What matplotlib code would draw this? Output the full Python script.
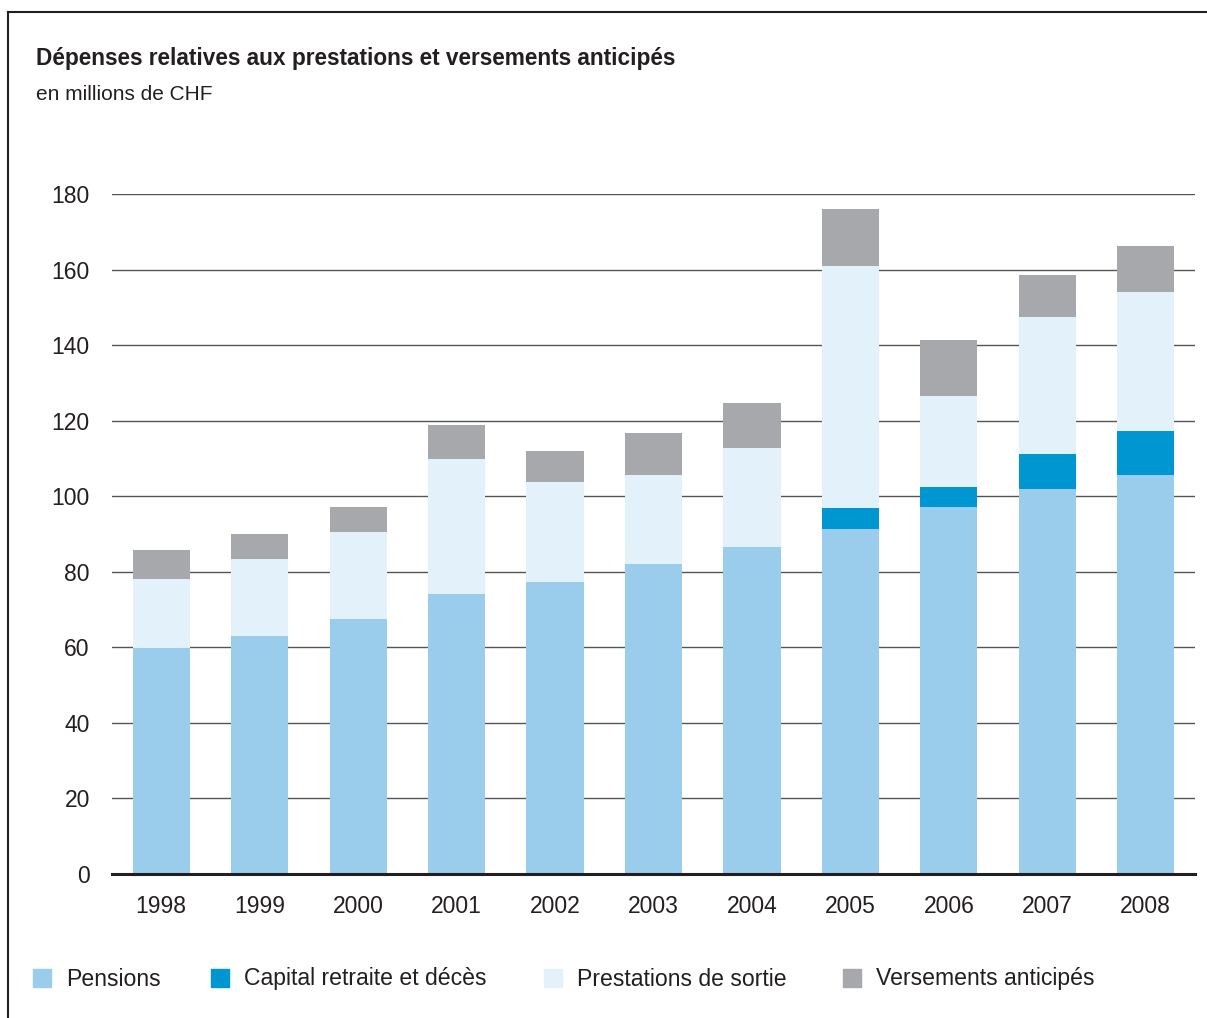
import numpy as np
import matplotlib.pyplot as plt
from matplotlib.patches import Rectangle
from matplotlib.lines import Line2D

plt.rcParams['font.family'] = ['Liberation Sans', 'DejaVu Sans']

# Données (en millions de CHF)
annees = ['1998', '1999', '2000', '2001', '2002', '2003', '2004', '2005', '2006', '2007', '2008']
pensions = [59.8, 63.0, 67.5, 74.1, 77.3, 82.0, 86.6, 91.3, 97.1, 101.9, 105.6]
capital = [0, 0, 0, 0, 0, 0, 0, 5.6, 5.3, 9.3, 11.7]
prestations_sortie = [18.3, 20.4, 23.0, 35.7, 26.5, 23.6, 26.2, 64.0, 24.1, 36.2, 36.7]
versements = [7.7, 6.6, 6.6, 9.0, 8.2, 11.1, 11.9, 15.1, 14.8, 11.2, 12.2]

series = [
    ("Pensions", pensions, "#99cdeb"),
    ("Capital retraite et décès", capital, "#0096d2"),
    ("Prestations de sortie", prestations_sortie, "#e3f1fa"),
    ("Versements anticipés", versements, "#a7a8ab"),
]

fig = plt.figure(figsize=(12.07, 10.18), dpi=100)
W, H = 1207, 1018
ax = fig.add_axes([112 / W, 1 - 874 / H, (1195 - 112) / W, (874 - 194) / H])

x = np.arange(len(annees))
bas = np.zeros(len(annees))
for nom, valeurs, couleur in series:
    ax.bar(x, valeurs, bottom=bas, width=0.58, color=couleur, zorder=2, linewidth=0)
    bas += np.array(valeurs)

ax.set_xlim(-0.5, len(annees) - 0.5)
ax.set_ylim(0, 180)
ax.set_yticks(range(0, 181, 20))
ax.set_xticks(x)
ax.set_xticklabels(annees)
ax.yaxis.grid(True, color="#555555", linewidth=1.0, zorder=0)
ax.set_axisbelow(True)
for s in ['top', 'right', 'left']:
    ax.spines[s].set_visible(False)
ax.spines['bottom'].set_linewidth(2.2)
ax.spines['bottom'].set_color("#231f20")
ax.spines['bottom'].set_zorder(3)
ax.tick_params(axis='both', length=0, labelsize=16.5, colors="#231f20")
ax.tick_params(axis='y', pad=16)
ax.tick_params(axis='x', pad=15)

# Titre
fig.text(36 / W, 1 - 59 / H, "Dépenses relatives aux prestations et versements anticipés",
         fontsize=16.3, fontweight='bold', color="#231f20", va='center')
fig.text(36 / W, 1 - 94 / H, "en millions de CHF", fontsize=15, color="#231f20", va='center')

# Cadre (haut et gauche)
fig.add_artist(Line2D([8 / W, 1], [1 - 12 / H, 1 - 12 / H], color="#231f20", linewidth=1.5))
fig.add_artist(Line2D([8 / W, 8 / W], [0, 1 - 12 / H], color="#231f20", linewidth=1.5))

# Légende
pos_legende = [33, 211, 544, 843]
for (nom, valeurs, couleur), px in zip(series, pos_legende):
    fig.add_artist(Rectangle((px / W, 1 - 987 / H), 18 / W, 18 / H, color=couleur,
                             transform=fig.transFigure))
    fig.text((px + 33) / W, 1 - 979 / H, nom, fontsize=16.6, color="#231f20", va='center')

fig.savefig("out.png", dpi=100)
